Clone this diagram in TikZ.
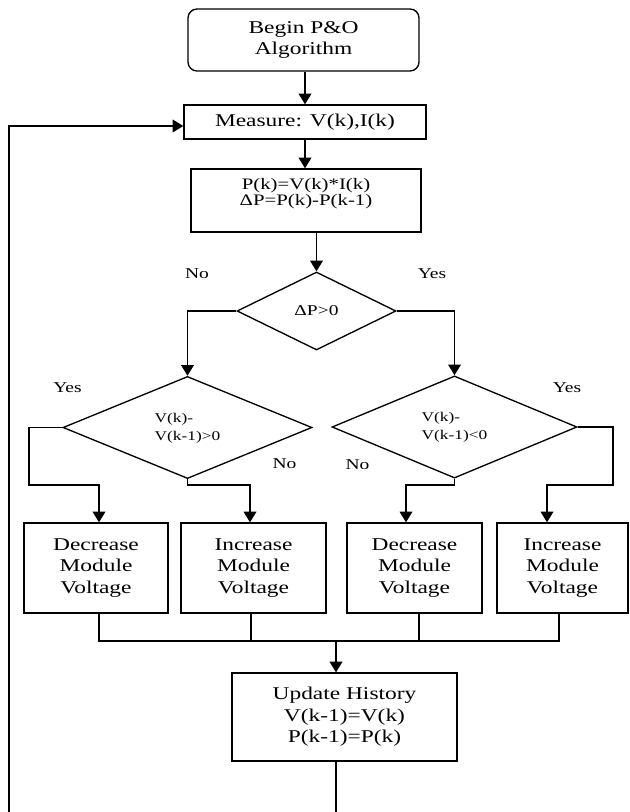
\documentclass[tikz,border=0pt]{standalone}
\usepackage{fontspec}
\setmainfont{Liberation Serif}[FakeStretch=1.3]
\usetikzlibrary{arrows.meta,shapes.geometric,calc}
\begin{document}
\begin{tikzpicture}[x=0.75pt,y=-0.75pt,
  line width=1pt,
  arr/.style={-{Triangle[length=8pt,width=9.5pt]}},
  box/.style={draw, rectangle, inner sep=0pt, align=center, font=\fontsize{13.5}{16.1}\selectfont},
  dia/.style={draw, diamond, inner sep=0pt},
  lbl/.style={font=\fontsize{11.25}{13}\selectfont, inner sep=0pt}]
\useasboundingbox (0,0) rectangle (629,812);

% nodes
\node[box, rounded corners=6.75pt, minimum width=173.25pt, minimum height=46.5pt] (begin) at (303.5,40) {Begin P\&O\\Algorithm};
\node[box, minimum width=181.5pt, minimum height=25.5pt] (measure) at (305,122) {Measure: V(k),I(k)};
\node[box, minimum width=172.5pt, minimum height=47.25pt, font=\fontsize{12}{12.2}\selectfont] (calc) at (306,200.5)
  {\raisebox{4.5pt}[\height][\depth]{\begin{tabular}{@{}c@{}}P(k)=V(k)*I(k)\\ΔP=P(k)-P(k-1)\end{tabular}}};
\node[dia, minimum width=119.25pt, minimum height=58.5pt, font=\fontsize{11.25}{13}\selectfont] (d1) at (316.5,311) {ΔP>0\hspace{10.5pt}};
\node[dia, minimum width=186.75pt, minimum height=54.75pt, font=\fontsize{10}{13.7}\selectfont] (d2) at (187.5,427.5)
  {\begin{tabular}{@{}l@{}}V(k)-\\V(k-1)>0\end{tabular}\hspace{25pt}};
\node[dia, minimum width=183.75pt, minimum height=54pt, font=\fontsize{10}{13.7}\selectfont] (d3) at (454.5,427)
  {\begin{tabular}{@{}l@{}}V(k)-\\V(k-1)<0\end{tabular}\hspace{25pt}};
\node[box, minimum width=108pt, minimum height=67.5pt] (b1) at (96,568) {Decrease\\Module\\Voltage};
\node[box, minimum width=108.75pt, minimum height=67.5pt] (b2) at (253.5,568) {Increase\\Module\\Voltage};
\node[box, minimum width=101.25pt, minimum height=67.5pt] (b3) at (414.5,568) {Decrease\\Module\\Voltage};
\node[box, minimum width=98.25pt, minimum height=67.5pt] (b4) at (562.5,568) {Increase\\Module\\Voltage};
\node[box, minimum width=168.75pt, minimum height=66pt] (upd) at (344.5,717) {Update History\\V(k-1)=V(k)\\P(k-1)=P(k)};

% labels
\node[lbl] (no1) at (197,274) {No};
\node[lbl] (yes1) at (432,274) {Yes};
\node[lbl] (yes2) at (67.5,388) {Yes};
\node[lbl] (no2) at (284.5,464) {No};
\node[lbl] (yes3) at (567,388) {Yes};
\node[lbl] (no3) at (357.5,465) {No};

% connectors
\draw[arr] (begin.south -| measure.north) -- (measure.north);
\draw[arr] (measure.south) -- (measure.south |- calc.north);
\draw[arr] (calc.south -| d1.north) -- (d1.north);
\draw[arr] (d1.west) -| (d2.north);
\draw[arr] (d1.east) -| (d3.north);
\coordinate (jL) at (29,485);
\coordinate (jR) at (613,485);
\draw[arr] (d2.west) -| (jL) -| ($(b1.north)+(3,0)$);
\draw[arr] (d2.south) -- (d2.south |- jL) -| ($(b2.north)+(-3.5,0)$);
\draw[arr] (d3.south) -- (d3.south |- jR) -| ($(b3.north)+(-8.5,0)$);
\draw[arr] (d3.east) -| (jR) -| ($(b4.north)+(-15.5,0)$);
\coordinate (m) at (336,641);
\draw ($(b1.south)+(3,0)$) |- (m);
\draw ($(b2.south)+(-2.5,0)$) |- (m);
\draw ($(b3.south)+(4.5,0)$) |- (m);
\draw ($(b4.south)+(-3.5,0)$) |- (m);
\draw[arr] (m) -- (m |- upd.north);
\coordinate (fbR) at (336,812);
\coordinate (fbL) at (9,812);
\draw (fbR |- upd.south) -- (fbR);
\draw[arr] (fbL) |- ($(measure.west)+(0,4)$);
\end{tikzpicture}
\end{document}
